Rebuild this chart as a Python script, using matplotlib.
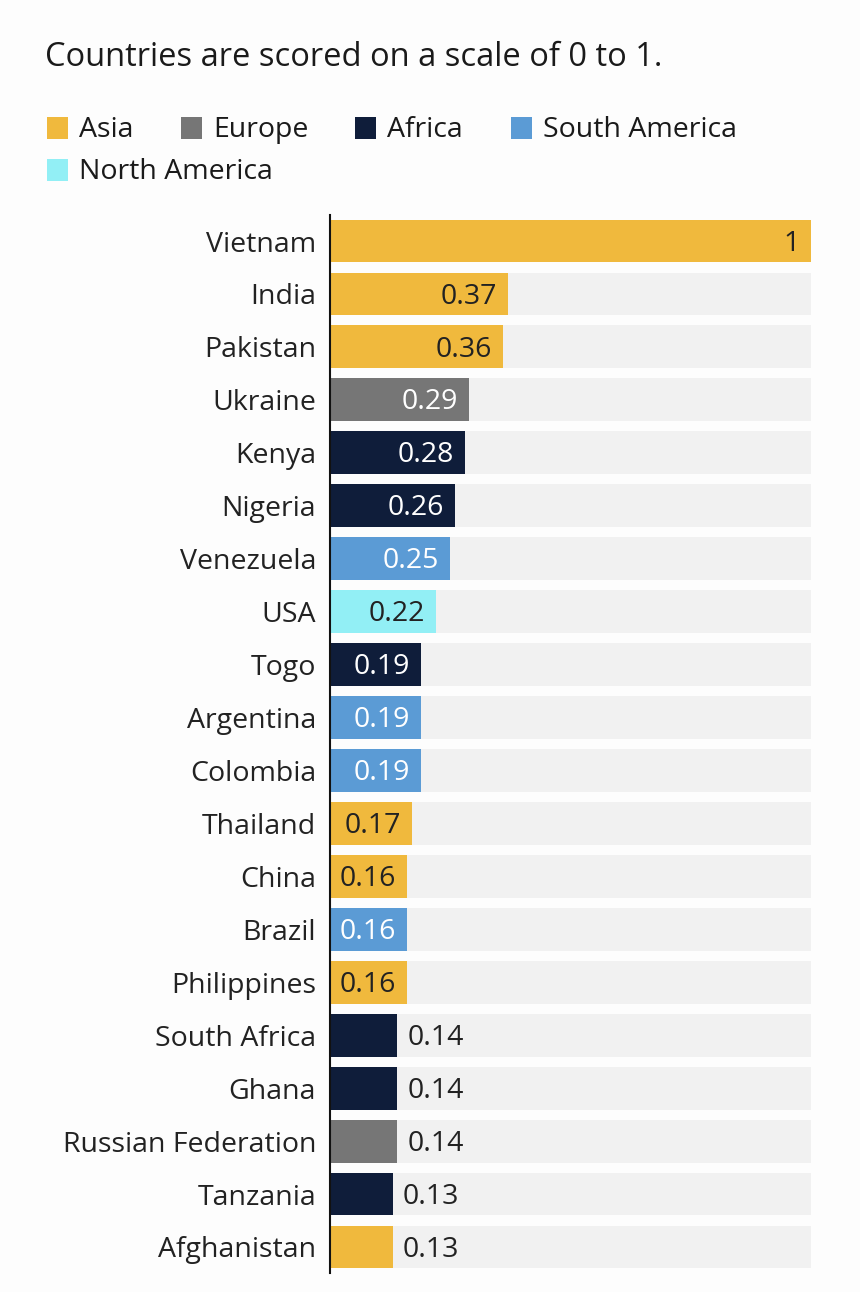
import matplotlib
matplotlib.use("Agg")
import matplotlib.pyplot as plt
from matplotlib.patches import Rectangle

countries = ["Vietnam", "India", "Pakistan", "Ukraine", "Kenya", "Nigeria", "Venezuela", "USA",
             "Togo", "Argentina", "Colombia", "Thailand", "China", "Brazil", "Philippines",
             "South Africa", "Ghana", "Russian Federation", "Tanzania", "Afghanistan"]
values = [1, 0.37, 0.36, 0.29, 0.28, 0.26, 0.25, 0.22, 0.19, 0.19, 0.19, 0.17, 0.16, 0.16, 0.16,
          0.14, 0.14, 0.14, 0.13, 0.13]
regions = ["Asia", "Asia", "Asia", "Europe", "Africa", "Africa", "South America", "North America",
           "Africa", "South America", "South America", "Asia", "Asia", "South America", "Asia",
           "Africa", "Africa", "Europe", "Africa", "Asia"]
legend_order = ["Asia", "Europe", "Africa", "South America", "North America"]
colors = {"Asia": "#f0b93d", "Europe": "#767676", "Africa": "#0f1d3a",
          "South America": "#5b9bd5", "North America": "#92eff5"}
label_colors = {"Asia": "#222222", "Europe": "white", "Africa": "white",
                "South America": "white", "North America": "#222222"}

plt.rcParams['font.family'] = ['Open Sans', 'DejaVu Sans']
W, H = 860, 1292
fig = plt.figure(figsize=(W / 100, H / 100), dpi=100)
fig.patch.set_facecolor("#fdfdfd")

# title
fig.text(45 / W, 1 - 57 / H, "Countries are scored on a scale of 0 to 1.", fontsize=23.5,
         color="#1a1a1a", va="center", ha="left")

# legend
leg_pos = [(47, 128), (181, 128), (355, 128), (511, 128), (47, 170)]
for name, (lx, ly) in zip(legend_order, leg_pos):
    fig.patches.append(Rectangle((lx / W, 1 - (ly + 11) / H), 21 / W, 22 / H,
                                 transform=fig.transFigure, facecolor=colors[name],
                                 edgecolor="none"))
    fig.text((lx + 32) / W, 1 - (ly + 2) / H, name, fontsize=20.5, color="#1a1a1a",
             va="center", ha="left")

top_c, bot_c = 241, 1247
pitch = (bot_c - top_c) / (len(countries) - 1)
ax_top = top_c - pitch / 2
ax_bot = bot_c + pitch / 2
ax = fig.add_axes([330 / W, 1 - ax_bot / H, (811 - 330) / W, (ax_bot - ax_top) / H])
ax.set_facecolor("none")
n = len(countries)
ypos = list(range(n))
ax.barh(ypos, [1] * n, height=0.81, color="#f1f1f1", zorder=1)
ax.barh(ypos, values, height=0.81, color=[colors[r] for r in regions], zorder=2)
ax.set_xlim(0, 1)
ax.set_ylim(n - 0.5, -0.5)
ax.set_yticks(ypos)
ax.set_yticklabels(countries, fontsize=20.5, color="#222222")
ax.tick_params(axis="y", length=0, pad=10)
ax.set_xticks([])
for s in ["top", "right", "bottom"]:
    ax.spines[s].set_visible(False)
ax.spines["left"].set_color("#111111")
ax.spines["left"].set_linewidth(1.5)
ax.spines["left"].set_zorder(5)

for y, v, r in zip(ypos, values, regions):
    if v >= 0.155:
        ax.text(v - 0.023, y + 0.05, f"{v:g}", ha="right", va="center", fontsize=20.5,
                color=label_colors[r], zorder=3)
    else:
        ax.text(v + 0.022, y + 0.05, f"{v:g}", ha="left", va="center", fontsize=20.5,
                color="#222222", zorder=3)

fig.savefig("out.png", dpi=100, facecolor=fig.get_facecolor())
